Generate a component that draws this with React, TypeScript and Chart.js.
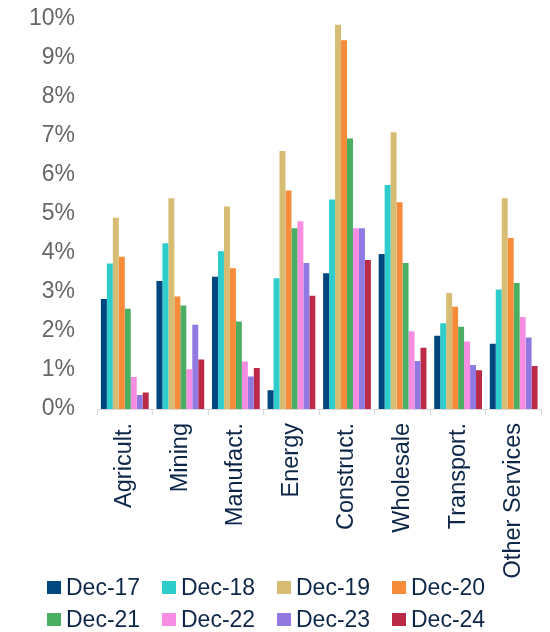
import React, { useEffect, useRef } from "react";
import { Chart, registerables } from "chart.js";

Chart.register(...registerables);

const categories = ["Agricult.", "Mining", "Manufact.", "Energy", "Construct.", "Wholesale", "Transport.", "Other Services"];
const seriesNames = ["Dec-17", "Dec-18", "Dec-19", "Dec-20", "Dec-21", "Dec-22", "Dec-23", "Dec-24"];
const seriesColors = ["#00467f", "#2ecdcb", "#d7bc74", "#f68b3a", "#4aae63", "#f78de3", "#907ae2", "#bb2a46"];

const dec17 = [2.82, 3.28, 3.39, 0.48, 3.48, 3.97, 1.88, 1.67];
const dec18 = [3.73, 4.25, 4.04, 3.35, 5.37, 5.74, 2.2, 3.06];
const dec19 = [4.9, 5.4, 5.19, 6.61, 9.85, 7.09, 2.97, 5.4];
const dec20 = [3.9, 2.88, 3.61, 5.6, 9.45, 5.3, 2.62, 4.38];
const dec21 = [2.57, 2.65, 2.24, 4.63, 6.93, 3.74, 2.11, 3.23];
const dec22 = [0.82, 1.02, 1.22, 4.81, 4.63, 1.99, 1.73, 2.36];
const dec23 = [0.36, 2.16, 0.83, 3.74, 4.63, 1.23, 1.13, 1.83];
const dec24 = [0.42, 1.27, 1.05, 2.9, 3.82, 1.57, 0.99, 1.1];

const yMin = 0;
const yMax = 10;
const yStep = 1;

const allSeries = [dec17, dec18, dec19, dec20, dec21, dec22, dec23, dec24];

const FONT = "'Liberation Sans', Arial, sans-serif";
const NAVY = "#0e2648";

const CANVAS_SHIFT = 17;

export default function App() {
  const ref = useRef<HTMLCanvasElement | null>(null);

  useEffect(() => {
    if (!ref.current) return;
    const chart = new Chart(ref.current, {
      type: "bar",
      data: {
        labels: categories,
        datasets: allSeries.map((d, i) => ({
          label: seriesNames[i],
          data: d,
          backgroundColor: seriesColors[i],
          borderWidth: 0,
          categoryPercentage: 0.86,
          barPercentage: 1,
        })),
      },
      options: {
        animation: false,
        responsive: false,
        maintainAspectRatio: false,
        layout: { padding: { top: 1, right: 2, bottom: 0, left: 0 } },
        plugins: {
          legend: { display: false },
          tooltip: { enabled: false },
        },
        scales: {
          x: {
            grid: {
              display: true,
              drawOnChartArea: false,
              drawTicks: true,
              tickLength: 6,
              color: "#d9d9d9",
            },
            border: { display: true, color: "#d9d9d9", width: 1 },
            ticks: {
              autoSkip: false,
              minRotation: 90,
              maxRotation: 90,
              padding: 8,
              labelOffset: 0,
              color: NAVY,
              font: { family: FONT, size: 23.5 },
            },
            afterFit: (scale: any) => {
              scale.height = 223;
            },
          },
          y: {
            min: yMin,
            max: yMax,
            grid: { display: false, drawTicks: false },
            border: { display: false },
            ticks: {
              stepSize: yStep,
              padding: 22,
              color: "#666666",
              font: { family: FONT, size: 23 },
              callback: (v: any) => `${v}%`,
            },
            afterFit: (scale: any) => {
              scale.width = 97;
            },
          },
        },
      },
    });
    return () => chart.destroy();
  }, []);

  const colLeft = [47, 162, 277, 392];
  const rowCenter = [587, 619];

  return (
    <div style={{ position: "fixed", left: 0, top: 0, width: 550, height: 632, background: "#fff", overflow: "hidden" }}>
      <canvas
        ref={ref}
        width={550}
        height={632 + CANVAS_SHIFT}
        style={{ display: "block", position: "absolute", left: 0, top: -CANVAS_SHIFT, width: 550, height: 632 + CANVAS_SHIFT }}
      />
      {seriesNames.map((name, i) => {
        const row = Math.floor(i / 4);
        const col = i % 4;
        return (
          <div
            key={name}
            style={{
              position: "absolute",
              left: colLeft[col],
              top: rowCenter[row] - 13,
              height: 26,
              display: "flex",
              alignItems: "center",
              fontFamily: FONT,
              fontSize: 23,
              color: NAVY,
              whiteSpace: "nowrap",
              lineHeight: "26px",
            }}
          >
            <span style={{ display: "inline-block", width: 14, height: 13, background: seriesColors[i], marginRight: 5 }} />
            <span>{name}</span>
          </div>
        );
      })}
    </div>
  );
}
